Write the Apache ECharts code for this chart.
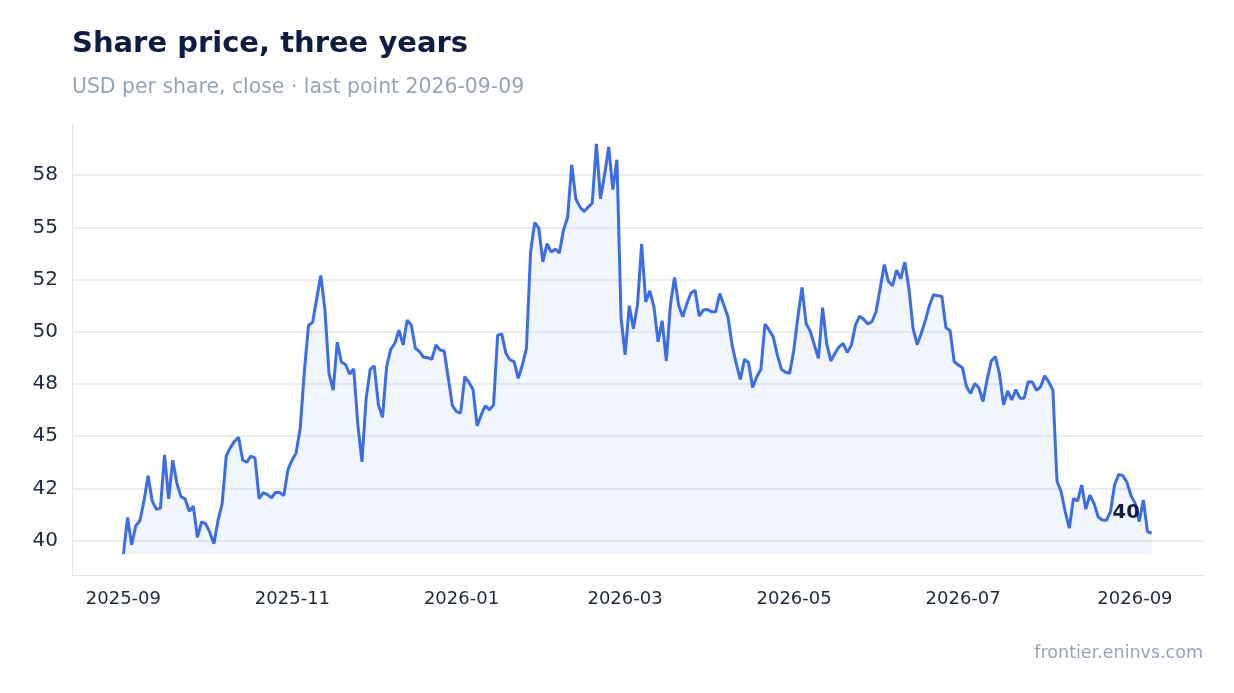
<!DOCTYPE html>
<html>
<head>
<meta charset="utf-8">
<title>Share price, three years</title>
<script src="https://cdn.jsdelivr.net/npm/echarts@6/dist/echarts.min.js"></script>
<style>
  html, body { margin: 0; padding: 0; background: #fff; }
  #main { width: 1234px; height: 693px; }
</style>
</head>
<body>
<div id="main"></div>
<script>
// first and last close (the points in between are evenly spaced)
var firstDate = '2025-09-01';
var lastDate = '2026-09-07';

// closing price, USD per share
var closes = [
  39.35, 41.1, 39.8, 40.7, 40.95, 41.9, 43.1, 41.9, 41.5, 41.55,
  44.1, 42.0, 43.85, 42.75, 42.1, 42.0, 41.4, 41.65, 40.15, 40.9,
  40.8, 40.4, 39.85, 40.95, 41.75, 44.05, 44.45, 44.75, 44.95, 43.85,
  43.75, 44.05, 43.95, 42.0, 42.3, 42.2, 42.05, 42.3, 42.3, 42.15,
  43.4, 43.85, 44.2, 45.4, 48.1, 50.3, 50.45, 51.6, 52.7, 51.05,
  48.0, 47.2, 49.5, 48.55, 48.43, 47.98, 48.22, 45.55, 43.77, 46.75,
  48.2, 48.37, 46.5, 45.9, 48.33, 49.16, 49.45, 50.08, 49.37, 50.56,
  50.32, 49.21, 49.05, 48.78, 48.76, 48.68, 49.37, 49.13, 49.08, 47.77,
  46.46, 46.18, 46.1, 47.85, 47.58, 47.24, 45.49, 46.02, 46.46, 46.26,
  46.5, 49.84, 49.89, 48.97, 48.65, 48.57, 47.77, 48.4, 49.2, 53.82,
  55.23, 54.96, 53.35, 54.22, 53.82, 53.96, 53.78, 54.86, 55.47, 58.0,
  56.37, 55.98, 55.76, 55.97, 56.16, 59.0, 56.37, 57.52, 58.85, 56.81,
  58.24, 50.67, 48.9, 51.25, 50.15, 51.3, 54.2, 51.43, 51.96, 51.19,
  49.52, 50.53, 48.61, 51.27, 52.6, 51.27, 50.72, 51.35, 51.86, 51.99,
  50.75, 51.04, 51.07, 50.96, 50.96, 51.83, 51.27, 50.72, 49.36, 48.49,
  47.72, 48.68, 48.52, 47.33, 47.85, 48.2, 50.37, 50.08, 49.76, 48.89,
  48.2, 48.06, 48.01, 49.12, 50.72, 52.12, 50.4, 50.03, 49.36, 48.73,
  51.16, 49.44, 48.6, 48.96, 49.28, 49.44, 49.01, 49.36, 50.32, 50.75,
  50.6, 50.37, 50.48, 50.96, 52.07, 53.22, 52.42, 52.2, 52.95, 52.55,
  53.34, 52.07, 50.16, 49.39, 49.92, 50.56, 51.27, 51.78, 51.72, 51.7,
  50.19, 50.06, 48.57, 48.41, 48.28, 47.37, 47.05, 47.52, 47.32, 46.66,
  47.69, 48.6, 48.81, 48.01, 46.5, 47.17, 46.74, 47.23, 46.82, 46.82,
  47.61, 47.6, 47.2, 47.36, 47.89, 47.6, 47.2, 42.85, 42.34, 41.38,
  40.59, 42.02, 41.89, 42.66, 41.51, 42.18, 41.78, 41.14, 40.98, 40.97,
  41.38, 42.66, 43.17, 43.11, 42.79, 42.15, 41.78, 40.91, 41.94, 40.43,
  40.35
];

// y ticks and the labels printed on them
var yTickValues = [40, 42.5, 45, 47.5, 50, 52.5, 55, 57.5];
var yTickLabels = ['40', '42', '45', '48', '50', '52', '55', '58'];

var t0 = new Date(firstDate + 'T00:00:00').getTime();
var t1 = new Date(lastDate + 'T00:00:00').getTime();
var step = (t1 - t0) / (closes.length - 1);
var seriesData = closes.map(function (v, i) { return [t0 + i * step, v]; });
var pad = (t1 - t0) * 0.05;
var lowest = Math.min.apply(null, closes);

var chart = echarts.init(document.getElementById('main'));

var option = {
  animation: false,
  textStyle: { fontFamily: 'DejaVu Sans' },
  title: [
    {
      text: 'Share price, three years',
      left: 72, top: 30, padding: 0,
      textStyle: { fontSize: 29, fontWeight: 'bold', color: '#0f1d42' }
    },
    {
      text: 'USD per share, close · last point 2026-09-09',
      left: 72, top: 78, padding: 0,
      textStyle: { fontSize: 20.4, fontWeight: 'normal', color: '#97a3b6' }
    },
    {
      text: 'frontier.eninvs.com',
      right: 31, bottom: 31, padding: 0,
      textStyle: { fontSize: 17.5, fontWeight: 'normal', color: '#97a3b6' }
    }
  ],
  grid: { left: 72, right: 31, top: 123, bottom: 118 },
  xAxis: {
    type: 'time',
    min: t0 - pad,
    max: t1 + pad,
    axisLine: { lineStyle: { color: '#dfe3ec' } },
    axisTick: { show: false },
    splitLine: { show: false },
    axisLabel: {
      formatter: '{yyyy}-{MM}',
      fontSize: 18,
      color: '#1e293b',
      margin: 15,
      showMinLabel: false,
      showMaxLabel: false
    }
  },
  yAxis: {
    type: 'value',
    min: function (e) { return e.min - 1; },
    max: function (e) { return e.max + 1; },
    axisLine: { show: true, lineStyle: { color: '#dfe3ec' } },
    axisTick: { show: false, customValues: yTickValues },
    axisLabel: {
      customValues: yTickValues,
      fontSize: 20,
      color: '#1e293b',
      margin: 14,
      verticalAlign: 'middle',
      padding: [3, 0, 0, 0],
      formatter: function (v) {
        var i = yTickValues.indexOf(v);
        return i >= 0 ? yTickLabels[i] : '';
      }
    },
    splitLine: { lineStyle: { color: '#e3e7f1', width: 1.5 } }
  },
  series: [{
    name: 'Close',
    type: 'line',
    data: seriesData,
    showSymbol: false,
    lineStyle: { color: '#3a6de7', width: 3 },
    itemStyle: { color: '#3a6de7' },
    areaStyle: { color: 'rgba(58,109,231,0.1)', origin: lowest },
    endLabel: {
      show: true,
      offset: [-47, -20],
      fontSize: 19.5,
      fontWeight: 'bold',
      color: '#0f1d42',
      formatter: function (p) { return String(Math.round(p.value[1])); }
    }
  }]
};

chart.setOption(option);
</script>
</body>
</html>
